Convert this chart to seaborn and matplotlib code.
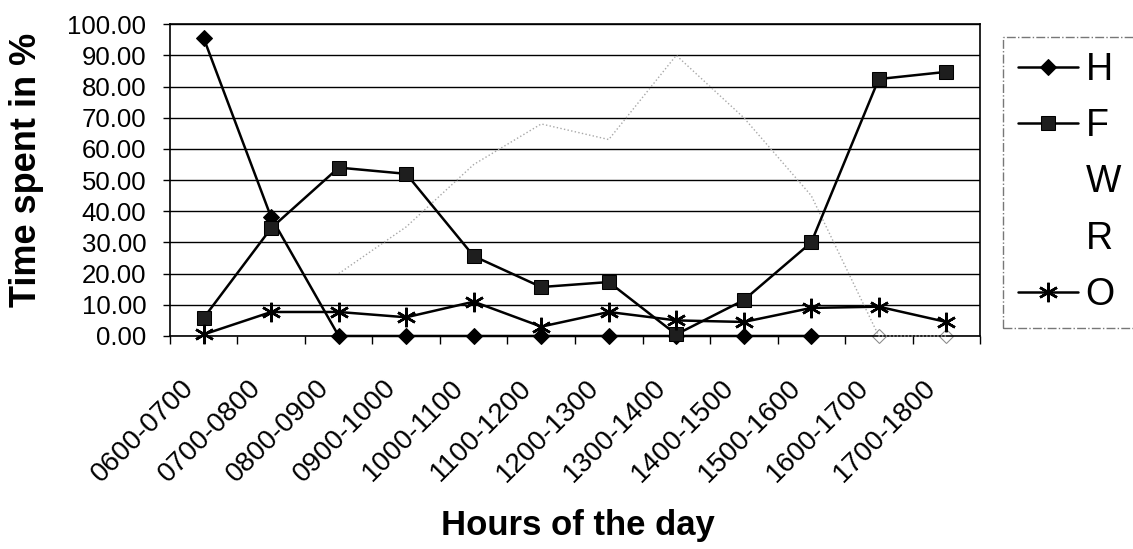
import numpy as np
import pandas as pd
import seaborn as sns
import matplotlib
matplotlib.use("Agg")
import matplotlib.pyplot as plt
from matplotlib.ticker import MultipleLocator, FormatStrFormatter
from matplotlib.transforms import ScaledTranslation

# 数据
hours = ["0600-0700", "0700-0800", "0800-0900", "0900-1000", "1000-1100", "1100-1200",
         "1200-1300", "1300-1400", "1400-1500", "1500-1600", "1600-1700", "1700-1800"]
H = [95.5, 38.0, 0, 0, 0, 0, 0, 0, 0, 0, np.nan, np.nan]
F = [5.8, 34.6, 54.0, 52.0, 25.6, 15.7, 17.3, 0.5, 11.5, 30.0, 82.4, 84.7]
W = [np.nan, np.nan, 20.0, 35.0, 55.0, 68.0, 63.0, 90.0, 70.0, 45.0, 0, 0]
R = [np.nan] * 10 + [0, 0]
O = [0.5, 7.7, 7.7, 6.0, 11.0, 3.0, 7.7, 5.0, 4.5, 9.0, 9.4, 4.5]

sns.set_theme(style="white")
plt.rcParams['font.family'] = ['Liberation Sans', 'DejaVu Sans']
plt.rcParams['text.color'] = 'black'
plt.rcParams['axes.labelcolor'] = 'black'
plt.rcParams['xtick.color'] = 'black'
plt.rcParams['ytick.color'] = 'black'

fig = plt.figure(figsize=(11.33, 5.49), dpi=100)
ax = fig.add_axes([0.150, 0.388, 0.715, 0.568])

pos = np.arange(len(hours))
asterisk = (6, 2, 0)

# 样式
styles = {
    "H": dict(color="black", marker="D", markersize=8, lw=1.8, ls="-", mfc="black", mec="black", zorder=5),
    "F": dict(color="black", marker="s", markersize=10, lw=1.8, ls="-", mfc="#1e1e1e", mec="black", zorder=6),
    "W": dict(color="#a8a8a8", marker=None, lw=1.0, ls=":", zorder=3),
    "R": dict(color="#d0d0d0", marker="D", markersize=7, lw=0.0, ls="-", mfc="white", mec="#8a8a8a", zorder=2),
    "O": dict(color="black", marker=asterisk, markersize=14, lw=1.8, ls="-", mec="black", mew=1.8, zorder=7),
}
series = {"H": H, "F": F, "W": W, "R": R, "O": O}

for name, vals in series.items():
    st = dict(styles[name])
    z = st.pop("zorder")
    sns.lineplot(x=pos, y=vals, ax=ax, label=name, zorder=z, clip_on=False, **st)

ax.set_xlim(-0.5, len(hours) - 0.5)
ax.set_ylim(0, 100)
ax.yaxis.set_major_locator(MultipleLocator(10))
ax.yaxis.set_major_formatter(FormatStrFormatter("%.2f"))
ax.grid(axis="y", color="black", lw=1.0)
ax.grid(axis="x", visible=False)

ax.set_xticks(pos)
ax.set_xticks(np.arange(-0.5, len(hours), 1), minor=True)
ax.tick_params(axis="x", which="major", length=0, pad=28)
ax.tick_params(axis="x", which="minor", length=6, width=1, color="black", direction="out", bottom=True)
ax.tick_params(axis="y", labelsize=18.5, length=5, width=1, direction="out", left=True, pad=12)
ax.set_xticklabels(hours, rotation=45, ha="right", va="top", rotation_mode="anchor", fontsize=20)
# 标签整体左移一点
shift = ScaledTranslation(-23 / 100, 0, fig.dpi_scale_trans)
for lab in ax.get_xticklabels():
    lab.set_transform(lab.get_transform() + shift)

for s in ax.spines.values():
    s.set_visible(True)
    s.set_color("black")
    s.set_linewidth(1.2)

ax.set_xlabel("Hours of the day", fontsize=25, fontweight="bold")
ax.set_ylabel("Time spent in %", fontsize=26, fontweight="bold")
ax.xaxis.set_label_coords(0.504, -0.554)
ax.yaxis.set_label_coords(-0.156, 0.532)

handles, labels = ax.get_legend_handles_labels()
ax.get_legend().remove()
leg = fig.legend(handles, labels, loc="upper left", bbox_to_anchor=(1003 / 1133, 1 - 37 / 549),
                 fontsize=27, frameon=True, fancybox=False, edgecolor="#555555",
                 labelspacing=0.54, handlelength=1.6, handletextpad=0.2, borderpad=0.4,
                 borderaxespad=0)
leg.get_frame().set_linewidth(1.0)
leg.get_frame().set_linestyle("-.")
# 图例中 W 和 R 不显示线条
for h, lab in zip(leg.legend_handles, labels):
    if lab in ("W", "R"):
        h.set_visible(False)

fig.savefig("out.png", dpi=100)
